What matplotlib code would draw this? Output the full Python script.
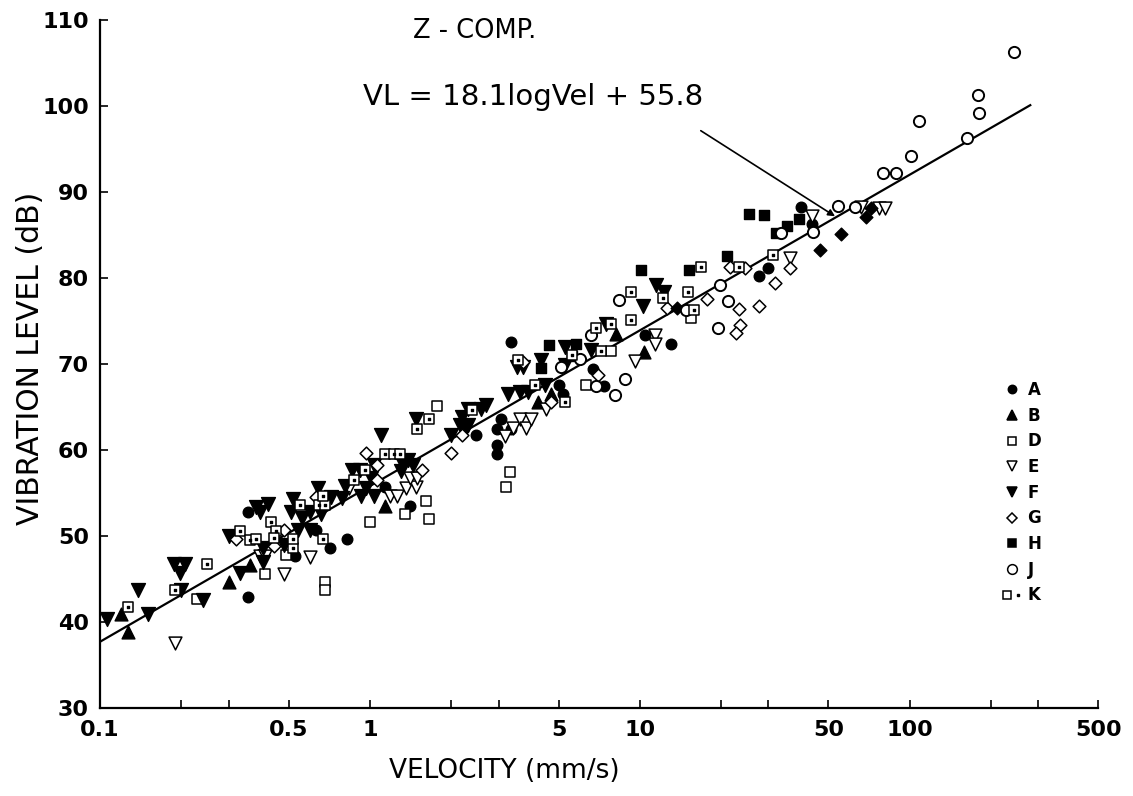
import numpy as np
import matplotlib
matplotlib.use("Agg")
import matplotlib.pyplot as plt
from matplotlib.lines import Line2D
from matplotlib.legend_handler import HandlerTuple

# velocity (mm/s) and vibration level (dB) for each site
A_vel = [0.353, 0.353, 0.53, 0.63, 0.71, 0.82, 1.14, 1.41, 2.47, 3.06, 2.97, 3.33, 2.97, 2.95,
         3.33, 5.0, 5.2, 6.7, 7.4, 10.5, 13.1, 27.6, 30, 39.5, 43.6]
A_vl = [42.9, 52.8, 47.7, 50.7, 48.6, 49.6, 55.7, 53.5, 61.7, 63.6, 62.4, 62.4, 60.6, 59.5,
        72.6, 67.5, 66.5, 69.4, 67.4, 73.4, 72.3, 80.2, 81.2, 88.2, 86.3]

B_vel = [0.12, 0.127, 0.30, 0.36, 1.14, 4.2, 4.7, 8.2, 10.4]
B_vl = [40.9, 38.8, 44.7, 46.6, 53.5, 65.6, 66.5, 73.5, 71.4]

D_vel = [0.229, 0.41, 0.49, 0.68, 0.68, 1.0, 1.35, 1.61, 1.65, 1.78, 3.3, 3.2, 6.3, 7.8, 15.5]
D_vl = [42.7, 45.6, 47.8, 44.7, 43.7, 51.6, 52.6, 54.1, 52.0, 65.1, 57.4, 55.7, 67.5, 71.5, 75.4]

E_vel = [0.19, 0.39, 0.41, 0.48, 0.60, 0.84, 1.19, 1.26, 1.36, 1.48, 1.41, 1.49, 3.16, 3.4,
         3.6, 3.8, 3.95, 4.5, 9.6, 11.4, 11.4, 36, 43.6, 66, 77, 81]
E_vl = [37.6, 47.7, 47.7, 45.6, 47.5, 55.6, 54.7, 54.7, 55.6, 55.7, 56.7, 56.7, 61.6, 62.6,
        63.6, 62.6, 63.6, 64.8, 70.4, 73.4, 72.3, 82.3, 87.2, 88.2, 88.1, 88.1]

F_vel = [0.106, 0.138, 0.15, 0.188, 0.206, 0.198, 0.2, 0.24, 0.33, 0.30, 0.378, 0.39, 0.42,
         0.40, 0.48, 0.40, 0.54, 0.60, 0.52, 0.51, 0.56, 0.60, 0.66, 0.64, 0.72, 0.79, 0.81,
         0.86, 0.92, 0.93, 0.97, 1.01, 1.04, 1.04, 1.1, 1.3, 1.33, 1.38, 1.44, 1.48, 2.0,
         2.15, 2.2, 2.25, 2.3, 2.3, 2.57, 2.7, 3.24, 3.6, 3.84, 4.45, 3.5, 3.7, 4.3, 5.3,
         5.3, 7.5, 6.6, 10.3, 11.5, 12.3]
F_vl = [40.4, 43.7, 40.9, 46.7, 46.7, 45.7, 43.7, 42.5, 45.7, 50.0, 53.4, 52.8, 53.7,
        48.6, 48.9, 47.0, 50.7, 50.7, 54.3, 52.8, 52.1, 52.8, 52.6, 55.6, 54.5, 54.4, 55.8,
        57.7, 57.7, 54.7, 55.6, 56.7, 54.7, 58.3, 61.7, 57.6, 58.3, 58.8, 58.3, 63.6, 61.7,
        62.9, 63.8, 62.3, 62.9, 64.8, 64.8, 65.2, 66.5, 66.7, 66.7, 67.5, 69.6, 69.6, 70.5, 72.0,
        69.9, 74.7, 71.6, 76.7, 79.2, 78.4]

G_vel = [0.32, 0.48, 0.44, 0.63, 0.97, 1.06, 1.06, 1.56, 2.0, 2.2, 3.7, 4.7, 7.0, 12.6,
         17.7, 21.6, 23.4, 24.5, 27.6, 23.6, 22.7, 31.7, 36]
G_vl = [49.6, 50.7, 48.8, 54.5, 59.6, 58.2, 56.5, 57.7, 59.7, 61.7, 70.2, 65.6, 68.7, 76.5,
        77.6, 81.3, 76.4, 81.2, 76.7, 74.5, 73.6, 79.4, 81.2]

# filled diamonds (not in the key)
X_vel = [13.8, 46.5, 55.5, 69, 72]
X_vl = [76.5, 83.2, 85.1, 87.1, 88.1]

H_vel = [4.6, 5.8, 4.3, 5.6, 10.1, 15.2, 21, 25.5, 28.8, 31.9, 35, 39]
H_vl = [72.2, 72.3, 69.5, 70.9, 80.9, 80.9, 82.6, 87.4, 87.3, 85.2, 86.1, 86.8]

J_vel = [5.1, 6.6, 6.0, 6.9, 8.1, 8.8, 8.4, 14.9, 19.9, 19.5, 21.3, 33.3, 44, 54.1, 63,
         80, 89, 101, 108, 163, 180, 181, 243]
J_vl = [69.6, 73.4, 70.6, 67.4, 66.4, 68.3, 77.4, 76.3, 79.2, 74.2, 77.3, 85.2, 85.3, 88.4,
        88.2, 92.2, 92.2, 94.2, 98.3, 96.3, 101.3, 99.2, 106.3]

K_vel = [0.127, 0.19, 0.25, 0.33, 0.36, 0.38, 0.43, 0.45, 0.44, 0.52, 0.52, 0.55, 0.67, 0.65,
         0.68, 0.67, 0.87, 0.96, 1.14, 1.23, 1.29, 1.49, 1.65, 2.4, 3.53, 4.1, 5.3, 5.6, 6.9,
         7.8, 7.2, 9.3, 9.3, 12.2, 15.1, 15.9, 16.8, 23.3, 31.3]
K_vl = [41.7, 43.7, 46.7, 50.6, 49.5, 49.6, 51.6, 50.6, 49.8, 48.6, 49.6, 53.6, 49.6, 53.6,
        53.6, 54.7, 56.5, 57.7, 59.5, 59.5, 59.5, 62.4, 63.6, 64.6, 70.5, 67.5, 65.6, 71.0, 74.2,
        74.7, 71.5, 78.4, 75.1, 77.7, 78.4, 76.3, 81.3, 81.3, 82.7]

fit_slope, fit_icpt = 18.1, 55.8
fit_range = [0.1, 280]

fig = plt.figure(figsize=(11.33, 7.96), dpi=100)
ax = fig.add_axes([0.0883, 0.1106, 0.881, 0.8643])

fv = np.array(fit_range)
ax.plot(fv, fit_slope * np.log10(fv) + fit_icpt, color="black", lw=1.6, zorder=1)

ew = 1.1
ax.scatter(A_vel, A_vl, marker="o", s=58, c="black", zorder=3)
ax.scatter(B_vel, B_vl, marker="^", s=85, c="black", zorder=3)
ax.scatter(D_vel, D_vl, marker="s", s=52, facecolors="white", edgecolors="black", linewidths=ew, zorder=3)
ax.scatter(E_vel, E_vl, marker="v", s=85, facecolors="white", edgecolors="black", linewidths=ew, zorder=3)
ax.scatter(F_vel, F_vl, marker="v", s=100, c="black", zorder=3)
ax.scatter(G_vel, G_vl, marker="D", s=42, facecolors="white", edgecolors="black", linewidths=ew, zorder=3)
ax.scatter(X_vel, X_vl, marker="D", s=42, c="black", zorder=3)
ax.scatter(H_vel, H_vl, marker="s", s=52, c="black", zorder=3)
ax.scatter(J_vel, J_vl, marker="o", s=65, facecolors="white", edgecolors="black", linewidths=1.4, zorder=3)
ax.scatter(K_vel, K_vl, marker="s", s=52, facecolors="white", edgecolors="black", linewidths=ew, zorder=3)
ax.scatter(K_vel, K_vl, marker="s", s=3, c="black", zorder=4)

ax.set_xscale("log")
ax.set_xlim(0.1, 500)
ax.set_ylim(30, 110)

ax.set_xticks([0.1, 0.5, 1, 5, 10, 50, 100, 500])
ax.set_xticklabels(["0.1", "0.5", "1", "5", "10", "50", "100", "500"])
ax.set_xticks([0.2, 0.3, 2, 3, 20, 30, 200, 300], minor=True)
ax.set_yticks(range(30, 111, 10))
ax.tick_params(axis="both", which="both", direction="in", length=6, width=1.2)
ax.tick_params(axis="x", pad=9)
ax.tick_params(axis="y", pad=8)
for lab in ax.get_xticklabels() + ax.get_yticklabels():
    lab.set_fontweight("bold")
    lab.set_fontsize(16)

ax.spines["top"].set_visible(False)
ax.spines["right"].set_visible(False)
ax.spines["left"].set_linewidth(1.6)
ax.spines["bottom"].set_linewidth(1.6)

fig.text(0.445, 0.032, "VELOCITY (mm/s)", fontsize=19, ha="center", va="center")
fig.text(0.027, 0.55, "VIBRATION LEVEL (dB)", fontsize=21.5, rotation=90,
         ha="center", va="center")

ax.text(1.44, 108.7, "Z - COMP.", fontsize=18.5, va="center")
ax.text(0.94, 101.0, "VL = 18.1logVel + 55.8", fontsize=21, va="center")
ax.annotate("", xy=(54, 87.0), xytext=(16.5, 97.3),
            arrowprops=dict(arrowstyle="-|>", color="black", lw=1.2, mutation_scale=10))

kw = dict(linestyle="none", markeredgecolor="black", markeredgewidth=1.1)
handles = [
    Line2D([], [], marker="o", markersize=6, markerfacecolor="black", **kw),
    Line2D([], [], marker="^", markersize=7, markerfacecolor="black", **kw),
    Line2D([], [], marker="s", markersize=6, markerfacecolor="white", **kw),
    Line2D([], [], marker="v", markersize=7, markerfacecolor="white", **kw),
    Line2D([], [], marker="v", markersize=7, markerfacecolor="black", **kw),
    Line2D([], [], marker="D", markersize=5, markerfacecolor="white", **kw),
    Line2D([], [], marker="s", markersize=6, markerfacecolor="black", **kw),
    Line2D([], [], marker="o", markersize=7, markerfacecolor="white", **kw),
    (Line2D([], [], marker="s", markersize=6, markerfacecolor="white", **kw),
     Line2D([], [], marker="s", markersize=1.5, markerfacecolor="black", linestyle="none",
            markeredgecolor="black")),
]
labels = ["A", "B", "D", "E", "F", "G", "H", "J", "K"]
fig.legend(handles, labels, loc="upper left", bbox_to_anchor=(0.873, 0.54), frameon=False,
           handler_map={tuple: HandlerTuple(ndivide=None)}, handlelength=1.0,
           handletextpad=0.4, labelspacing=0.46, prop={"weight": "bold", "size": 12})

fig.savefig("out.png", dpi=100)
